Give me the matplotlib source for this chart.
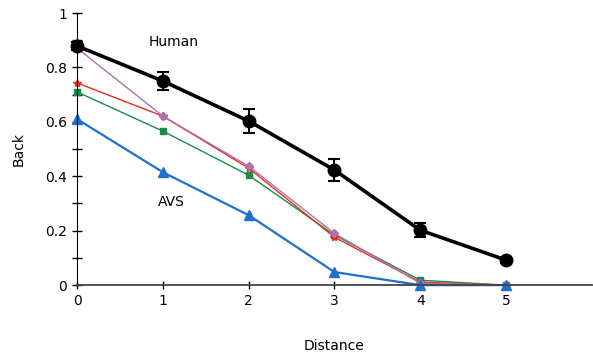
import numpy as np
import matplotlib.pyplot as plt
from matplotlib.ticker import MultipleLocator

# data
distance = [0, 1, 2, 3, 4, 5]
human = [0.879, 0.750, 0.603, 0.423, 0.202, 0.092]
human_err = [0.015, 0.033, 0.044, 0.040, 0.025, 0.012]
red_model = [0.743, 0.621, 0.430, 0.176, 0.011, 0.0]
green_model = [0.710, 0.566, 0.404, 0.184, 0.018, 0.0]
purple_model = [0.871, 0.621, 0.437, 0.190, 0.007, 0.0]
avs = [0.610, 0.415, 0.257, 0.048, 0.0, 0.0]

fig = plt.figure(figsize=(5.93, 3.52), dpi=100)
ax = fig.add_axes([0.130, 0.190, 0.868, 0.773])

ax.plot(distance, green_model, color='#1e8a4a', marker='s', markersize=4, linewidth=1, clip_on=False)
ax.plot(distance, red_model, color='#e0301e', marker='*', markersize=6, linewidth=1, clip_on=False)
ax.plot(distance, purple_model, color='#b070b0', marker='D', markersize=4, linewidth=1, clip_on=False)
ax.plot(distance, avs, color='#1f6fd0', marker='^', markersize=7, linewidth=1.6, clip_on=False)
ax.errorbar(distance, human, yerr=human_err, color='black', marker='o', markersize=9,
            linewidth=2.6, elinewidth=1.5, capsize=4, capthick=1.5, clip_on=False, zorder=5)

ax.text(0.83, 0.893, 'Human', fontsize=10, va='center')
ax.text(0.94, 0.305, 'AVS', fontsize=10, va='center')

ax.set_xlim(0, 6)
ax.set_ylim(0, 1)
ax.set_xticks([0, 1, 2, 3, 4, 5])
ax.set_yticks([0, 0.2, 0.4, 0.6, 0.8, 1])
ax.set_yticklabels(['0', '0.2', '0.4', '0.6', '0.8', '1'])
ax.yaxis.set_minor_locator(MultipleLocator(0.1))
ax.tick_params(direction='inout', length=7, width=1, labelsize=10)
ax.tick_params(which='minor', direction='inout', length=7, width=1)
ax.tick_params(axis='x', length=6)
for s in ['top', 'right']:
    ax.spines[s].set_visible(False)
ax.spines['bottom'].set_color('#444444')
ax.spines['bottom'].set_linewidth(1.3)

ax.set_xlabel('Distance', fontsize=10, labelpad=22)
ax.set_ylabel('Back', fontsize=10, labelpad=14)

fig.savefig('out.png', dpi=100)
